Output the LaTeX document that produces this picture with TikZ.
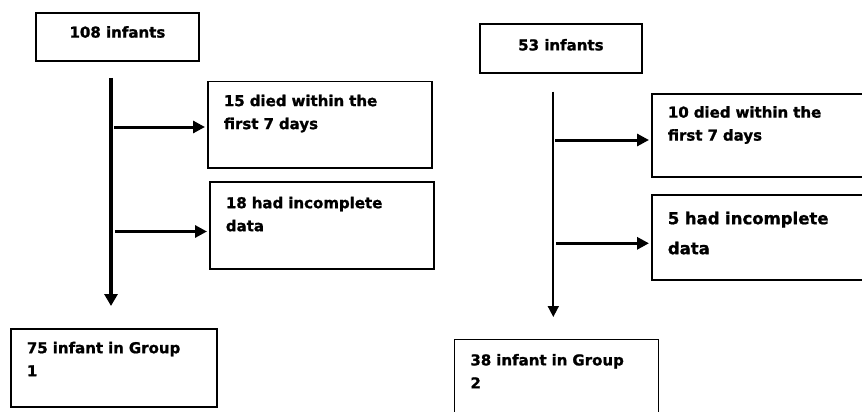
\documentclass[tikz,border=0pt]{standalone}
\usepackage{fontspec}
\setmainfont{DejaVu Sans}[BoldFeatures={FakeBold=1.2}]
\usetikzlibrary{arrows.meta}
\begin{document}
\begin{tikzpicture}[x=1pt,y=-1pt,
  every node/.style={font=\bfseries\fontsize{15}{23}\selectfont},
  startbox/.style={draw,line width=1.8pt,anchor=north west,inner sep=0pt,minimum width=163pt},
  sidebox/.style={draw,line width=1.8pt,anchor=north west,align=left,inner xsep=16pt,inner ysep=0pt,text height=24pt},
  branch/.style={line width=3pt,shorten >=2pt,-{Triangle[length=12pt,width=12pt]}}]
\clip (0,0) rectangle (862,412);
\node[startbox,text height=24.7pt,text depth=23.3pt] (all1) at (35,12) {108 infants};
\node[sidebox,text width=192pt,text height=24.5pt,text depth=61.5pt] (died1) at (207,80.7) {15 died within the\\first 7 days};
\node[sidebox,text width=192pt,text height=26.3pt,text depth=60.7pt] (miss1) at (209,181) {18 had incomplete\\data};
\node[sidebox,text width=173.7pt,text depth=53.7pt] (grp1) at (10,328.3) {75 infant in Group\\1};
\node[startbox,minimum width=162pt,text height=26.5pt,text depth=22.5pt] (all2) at (479,23) {53 infants};
\node[sidebox,text width=200pt,text depth=59.3pt] (died2) at (651,92.7) {10 died within the\\first 7 days};
\node[sidebox,text width=200pt,text height=29.3pt,text depth=55.7pt,font=\bfseries\fontsize{16.5}{30}\selectfont] (miss2) at (651,194) {5 had incomplete\\data};
\node[sidebox,text width=172pt,text height=26pt,text depth=66pt] (grp2) at (453.5,338.5) {38 infant in Group\\2};
\coordinate (ltop) at (111,78);
\coordinate (lend) at (111,306);
\coordinate (lb1) at (114,127);
\coordinate (lb2) at (115,231.5);
\coordinate (rtop) at (553.3,91.7);
\coordinate (rend) at (553.3,317);
\coordinate (rb1) at (555,140);
\coordinate (rb2) at (556,243.3);
\draw[line width=3.3pt,-{Triangle[length=12pt,width=13pt]}] (ltop) -- (lend);
\draw[line width=1.7pt,-{Triangle[length=11pt,width=11pt]}] (rtop) -- (rend);
\draw[branch] (lb1) -- (lb1 -| died1.west);
\draw[branch] (lb2) -- (lb2 -| miss1.west);
\draw[branch] (rb1) -- (rb1 -| died2.west);
\draw[branch] (rb2) -- (rb2 -| miss2.west);
\end{tikzpicture}
\end{document}
